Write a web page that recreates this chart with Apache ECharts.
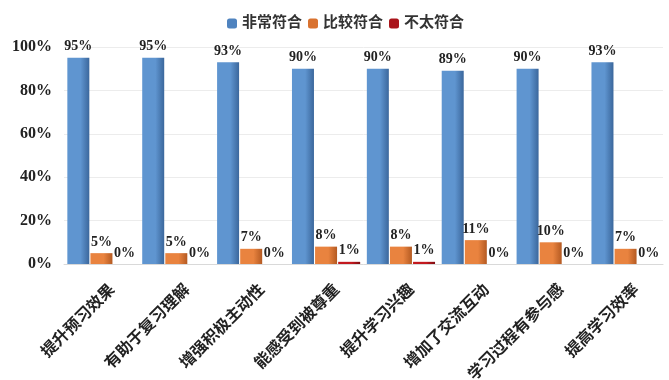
<!DOCTYPE html>
<html><head><meta charset="utf-8">
<script src="https://cdn.jsdelivr.net/npm/echarts@6/dist/echarts.min.js"></script>
<style>html,body{margin:0;padding:0;background:#fff}#c{width:669px;height:380px}</style>
</head><body><div id="c"></div>
<script>
const categories = ['提升预习效果','有助于复习理解','增强积极主动性','能感受到被尊重','提升学习兴趣','增加了交流互动','学习过程有参与感','提高学习效率'];
const seriesNames = ['非常符合','比较符合','不太符合'];
const veryMatch = [95,95,93,90,90,89,90,93];
const fairlyMatch = [5,5,7,8,8,11,10,7];
const notMatch = [0,0,0,1,1,0,0,0];
const yTicks = [0,20,40,60,80,100];

const fontMix = '"Liberation Serif","Noto Sans CJK SC",serif';
function grad(l, r){
  return {type:'linear',x:0,y:0,x2:1,y2:0,colorStops:[{offset:0,color:l},{offset:0.6,color:l},{offset:1,color:r}]};
}
const colors = [grad('#5f95d0','#3b679c'), grad('#e9833f','#b45a22'), grad('#c3191f','#7d0c10')];
const legendColors = ['#4f83bf','#d9722f','#a9141a'];
const dataSets = [veryMatch, fairlyMatch, notMatch];

const chart = echarts.init(document.getElementById('c'));
chart.setOption({
  animation:false,
  color: legendColors,
  legend:{
    top:11, left:222,
    itemWidth:10, itemHeight:10, itemGap:6,
    textStyle:{fontFamily:fontMix, fontSize:15, fontWeight:'bold', color:'#333'},
    data: seriesNames.map((n,i)=>({name:n, itemStyle:{color:legendColors[i]}}))
  },
  grid:{left:64, right:6, top:47, bottom:116, containLabel:false, outerBoundsMode:'none'},
  xAxis:{
    type:'category', data:categories,
    axisLine:{lineStyle:{color:'#d9d9d9'}},
    axisTick:{show:false},
    axisLabel:{rotate:45, interval:0, margin:32, padding:[0,-14,0,0], fontFamily:'"Noto Sans CJK SC",sans-serif', fontWeight:'bold', fontSize:16, color:'#222'}
  },
  yAxis:{
    type:'value', min:yTicks[0], max:yTicks[yTicks.length-1], interval:20,
    axisLabel:{formatter:'{value}%', fontFamily:fontMix, fontWeight:'bold', fontSize:16, color:'#222', margin:12},
    splitLine:{lineStyle:{color:'#ececec'}},
    axisLine:{show:false}, axisTick:{show:false}
  },
  series: seriesNames.map((n,i)=>({
    name:n, type:'bar', data:dataSets[i],
    barWidth:22, barGap:'5%',
    itemStyle:{color:colors[i]},
    label:{show:true, position:'top', formatter:'{c}%', fontFamily:fontMix, fontWeight:'bold', fontSize:14, color:'#222', distance:4}
  }))
});
</script></body></html>
